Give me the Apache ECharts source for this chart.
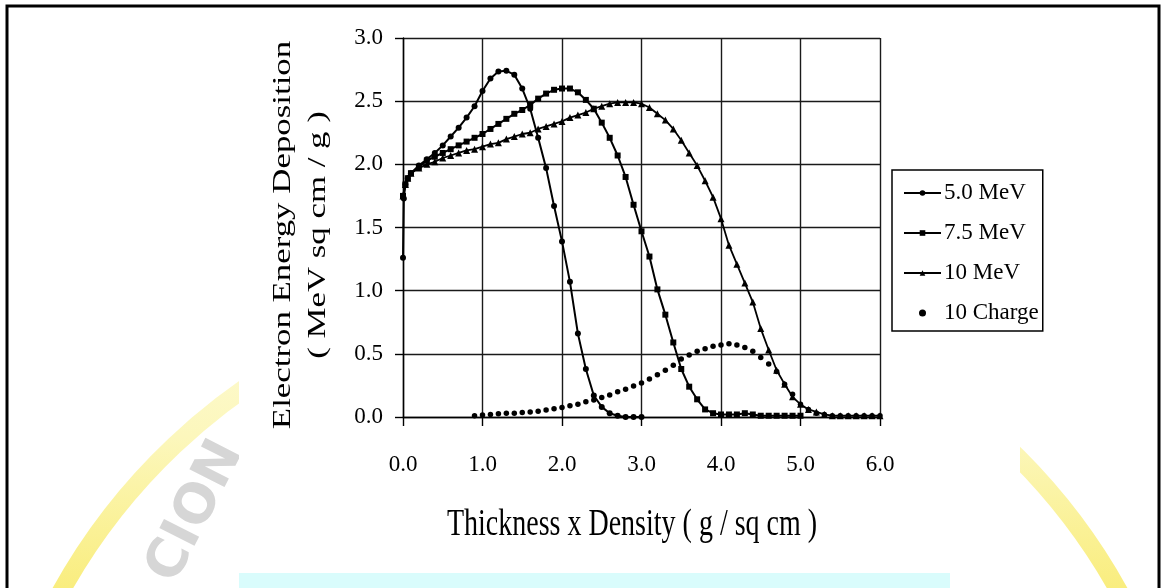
<!DOCTYPE html>
<html>
<head>
<meta charset="utf-8">
<script src="https://cdn.jsdelivr.net/npm/echarts@6/dist/echarts.min.js"></script>
<style>
  html, body { margin: 0; padding: 0; background: #fff; }
  #main { width: 1166px; height: 588px; }
</style>
</head>
<body>
<div id="main"></div>
<script>
// values (x = g/sq cm, y = MeV sq cm / g)
var x50 = [0, 0.01, 0.03, 0.06, 0.1, 0.2, 0.3, 0.4, 0.5, 0.6, 0.7, 0.8, 0.9, 1.0, 1.1, 1.2, 1.3, 1.4, 1.5, 1.6, 1.7, 1.8, 1.9, 2.0, 2.1, 2.2, 2.3, 2.4, 2.5, 2.6, 2.7, 2.8, 2.9, 3.0];
var y50 = [1.26, 1.73, 1.84, 1.89, 1.93, 1.99, 2.04, 2.09, 2.15, 2.22, 2.29, 2.37, 2.46, 2.58, 2.68, 2.735, 2.74, 2.71, 2.60, 2.44, 2.21, 1.97, 1.67, 1.39, 1.07, 0.66, 0.38, 0.17, 0.08, 0.03, 0.01, 0, 0, 0];

var x75 = [0, 0.03, 0.06, 0.1, 0.2, 0.3, 0.4, 0.5, 0.6, 0.7, 0.8, 0.9, 1.0, 1.1, 1.2, 1.3, 1.4, 1.5, 1.6, 1.7, 1.8, 1.9, 2.0, 2.1, 2.2, 2.3, 2.4, 2.5, 2.6, 2.7, 2.8, 2.9, 3.0, 3.1, 3.2, 3.3, 3.4, 3.5, 3.6, 3.7, 3.8, 3.9, 4.0, 4.1, 4.2, 4.3, 4.4, 4.5, 4.6, 4.7, 4.8, 4.9, 5.0];
var y75 = [1.75, 1.84, 1.89, 1.93, 1.98, 2.03, 2.06, 2.09, 2.12, 2.15, 2.18, 2.21, 2.24, 2.28, 2.32, 2.36, 2.40, 2.43, 2.47, 2.52, 2.56, 2.59, 2.60, 2.60, 2.57, 2.51, 2.44, 2.33, 2.21, 2.07, 1.90, 1.68, 1.47, 1.27, 1.01, 0.81, 0.59, 0.38, 0.24, 0.14, 0.06, 0.03, 0.02, 0.02, 0.02, 0.03, 0.02, 0.01, 0.01, 0.01, 0.01, 0.01, 0.01];

var x100 = [0, 0.03, 0.06, 0.1, 0.2, 0.3, 0.4, 0.5, 0.6, 0.7, 0.8, 0.9, 1.0, 1.1, 1.2, 1.3, 1.4, 1.5, 1.6, 1.7, 1.8, 1.9, 2.0, 2.1, 2.2, 2.3, 2.4, 2.5, 2.6, 2.7, 2.8, 2.9, 3.0, 3.1, 3.2, 3.3, 3.4, 3.5, 3.6, 3.7, 3.8, 3.9, 4.0, 4.1, 4.2, 4.3, 4.4, 4.5, 4.6, 4.7, 4.8, 4.9, 5.0, 5.1, 5.2, 5.3, 5.4, 5.5, 5.6, 5.7, 5.8, 5.9, 6.0];
var y100 = [1.75, 1.84, 1.89, 1.93, 1.97, 2.00, 2.02, 2.05, 2.07, 2.09, 2.11, 2.12, 2.14, 2.16, 2.17, 2.20, 2.22, 2.24, 2.25, 2.28, 2.30, 2.32, 2.34, 2.37, 2.39, 2.41, 2.44, 2.46, 2.48, 2.49, 2.49, 2.49, 2.48, 2.45, 2.40, 2.35, 2.28, 2.19, 2.09, 1.99, 1.87, 1.74, 1.57, 1.36, 1.21, 1.06, 0.91, 0.70, 0.53, 0.37, 0.26, 0.16, 0.10, 0.06, 0.04, 0.02, 0.01, 0.01, 0.01, 0.01, 0.01, 0.01, 0.01];

var xChg = [0.9, 1.0, 1.1, 1.2, 1.3, 1.4, 1.5, 1.6, 1.7, 1.8, 1.9, 2.0, 2.1, 2.2, 2.3, 2.4, 2.5, 2.6, 2.7, 2.8, 2.9, 3.0, 3.1, 3.2, 3.3, 3.4, 3.5, 3.6, 3.7, 3.8, 3.9, 4.0, 4.1, 4.2, 4.3, 4.4, 4.5, 4.6, 4.7, 4.8, 4.9, 5.0, 5.1, 5.2, 5.3, 5.4, 5.5, 5.6, 5.7, 5.8, 5.9, 6.0];
var yChg = [0.01, 0.015, 0.02, 0.025, 0.03, 0.03, 0.035, 0.04, 0.045, 0.055, 0.065, 0.075, 0.09, 0.10, 0.12, 0.135, 0.155, 0.175, 0.20, 0.22, 0.245, 0.27, 0.30, 0.335, 0.37, 0.41, 0.46, 0.49, 0.52, 0.54, 0.56, 0.57, 0.58, 0.57, 0.55, 0.52, 0.47, 0.42, 0.36, 0.26, 0.18, 0.10, 0.06, 0.03, 0.02, 0.01, 0.01, 0.01, 0.01, 0.01, 0.01, 0.01];

var seriesNames = ['5.0 MeV', '7.5 MeV', '10 MeV', '10 Charge'];
var xTicks = ['0.0', '1.0', '2.0', '3.0', '4.0', '5.0', '6.0'];

function pairs(xs, ys) {
    var out = [];
    for (var i = 0; i < xs.length; i++) out.push([xs[i], ys[i]]);
    return out;
}

var serif = '"Liberation Serif", "Times New Roman", serif';
var chart = echarts.init(document.getElementById('main'), null, { renderer: 'canvas' });

//背景水印：上浅下深的黄色弧
var arcFill = new echarts.graphic.LinearGradient(0, 0, 0, 1, [
    { offset: 0, color: '#fefcdf' },
    { offset: 0.45, color: '#fcf7bc' },
    { offset: 1, color: '#f8ea6a' }
]);

chart.setOption({
    animation: false,
    backgroundColor: '#fff',
    grid: {
        left: 403, right: 286, top: 38, bottom: 171,
        containLabel: false,
        outerBoundsMode: 'none'
    },
    legend: {
        orient: 'vertical',
        left: 892, top: 170,
        padding: [11, 4, 6, 11],
        borderColor: '#000',
        borderWidth: 1.5,
        itemWidth: 37,
        itemHeight: 7,
        itemGap: 16,
        data: seriesNames,
        textStyle: { fontFamily: serif, fontSize: 23, color: '#000', lineHeight: 24, padding: [0, 0, 0, -2] }
    },
    xAxis: {
        type: 'value',
        min: 0, max: 6, interval: 1,
        axisLine: { show: true, lineStyle: { color: '#000', width: 1.4 } },
        axisTick: { show: true, length: 9, lineStyle: { color: '#000', width: 1.4 } },
        splitLine: { show: true, lineStyle: { color: '#1a1a1a', width: 1.4 } },
        axisLabel: {
            margin: 36,
            fontFamily: serif, fontSize: 23, color: '#000',
            formatter: function (v) { return xTicks[Math.round(v)]; }
        }
    },
    yAxis: {
        type: 'value',
        min: 0, max: 3, interval: 0.5,
        axisLine: { show: true, lineStyle: { color: '#000', width: 1.4 } },
        axisTick: { show: true, length: 8, lineStyle: { color: '#000', width: 1.4 } },
        splitLine: { show: true, lineStyle: { color: '#1a1a1a', width: 1.4 } },
        axisLabel: {
            margin: 20,
            fontFamily: serif, fontSize: 23, color: '#000',
            formatter: function (v) { return v.toFixed(1); }
        }
    },
    graphic: [
        {
            type: 'arc', z: -20,
            shape: { cx: 590, cy: 885, r: 605, startAngle: -155 * Math.PI / 180, endAngle: -25 * Math.PI / 180, clockwise: true },
            style: { stroke: arcFill, lineWidth: 18, fill: null }
        },
        {
            type: 'text', z: -19, x: 196, y: 512, rotation: 1.1,
            style: { text: 'CION', font: 'bold 54px "DejaVu Sans"', fill: '#d6d6d6', align: 'center', verticalAlign: 'middle' }
        },
        { type: 'rect', z: -10, shape: { x: 239, y: 8, width: 781, height: 565 }, style: { fill: '#fff' } },
        { type: 'rect', z: -10, shape: { x: 239, y: 573, width: 711, height: 20 }, style: { fill: '#d9fcfc' } },
        { type: 'rect', z: 5, shape: { x: 7, y: 6, width: 1152, height: 600 }, style: { stroke: '#000', lineWidth: 3, fill: null } },
        {
            type: 'text', z: 10, x: 283, y: 235, rotation: Math.PI / 2, scaleX: 1.34,
            style: { text: 'Electron Energy Deposition', font: '26px ' + serif, fill: '#000', align: 'center', verticalAlign: 'middle' }
        },
        {
            type: 'text', z: 10, x: 318, y: 235, rotation: Math.PI / 2, scaleX: 1.34,
            style: { text: '( MeV sq cm / g )', font: '26px ' + serif, fill: '#000', align: 'center', verticalAlign: 'middle' }
        },
        {
            type: 'text', z: 10, x: 632, y: 525, scaleY: 1.35,
            style: { text: 'Thickness x Density ( g / sq cm )', font: '28px ' + serif, fill: '#000', align: 'center', verticalAlign: 'middle' }
        }
    ],
    series: [
        {
            name: seriesNames[0], type: 'line',
            data: pairs(x50, y50),
            symbol: 'circle', symbolSize: 6, showAllSymbol: true,
            lineStyle: { color: '#000', width: 2 },
            itemStyle: { color: '#000' }
        },
        {
            name: seriesNames[1], type: 'line',
            data: pairs(x75, y75),
            symbol: 'rect', symbolSize: 6, showAllSymbol: true,
            lineStyle: { color: '#000', width: 2 },
            itemStyle: { color: '#000' }
        },
        {
            name: seriesNames[2], type: 'line',
            data: pairs(x100, y100),
            symbol: 'triangle', symbolSize: 7, showAllSymbol: true,
            lineStyle: { color: '#000', width: 1.8 },
            itemStyle: { color: '#000' }
        },
        {
            name: seriesNames[3], type: 'scatter',
            data: pairs(xChg, yChg),
            symbol: 'circle', symbolSize: 5.5,
            itemStyle: { color: '#000', opacity: 1 }
        }
    ]
});
</script>
</body>
</html>
